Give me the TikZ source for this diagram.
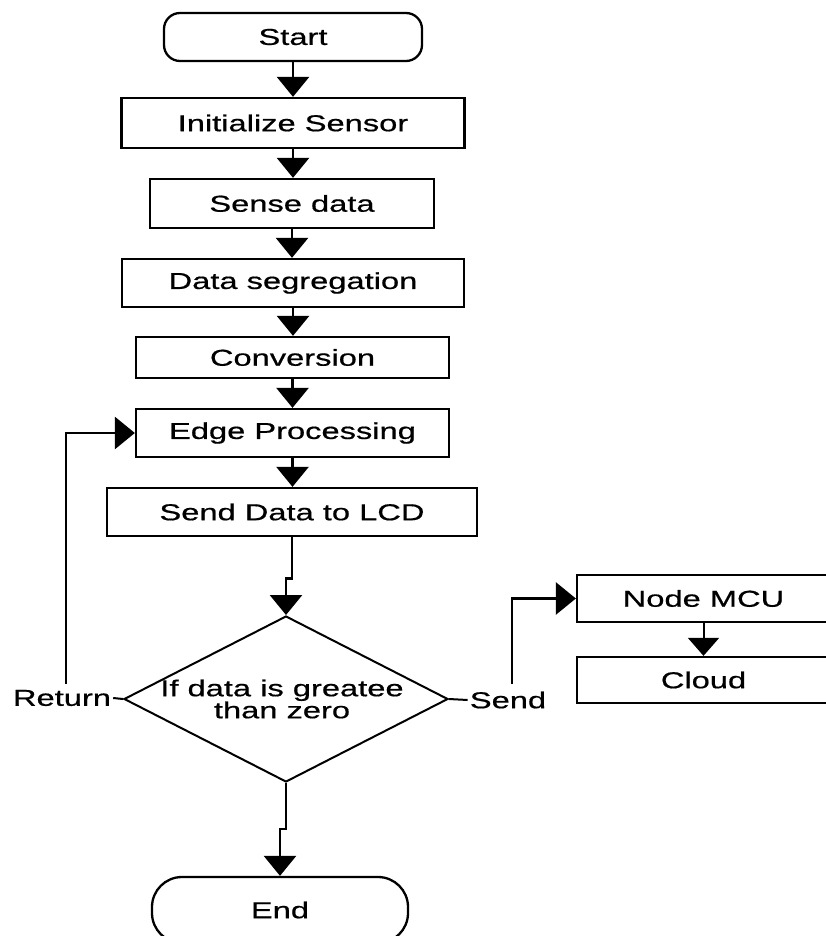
\documentclass[tikz,border=0pt]{standalone}
\usepackage{fontspec}
\setmainfont[FakeStretch=1.42,FakeBold=0.6]{Liberation Sans}
\usetikzlibrary{arrows.meta,shapes.geometric}
\begin{document}
\begin{tikzpicture}[x=1pt,y=-1pt,
  font=\fontsize{23}{22}\selectfont,
  box/.style={draw=black,line width=2.3pt,inner sep=0pt,minimum width=#1},
  arr/.style={line width=2.8pt,-{Triangle[width=32pt,length=20pt]}},
  thinarr/.style={line width=2pt,-{Triangle[width=31pt,length=18pt]}},
  ln/.style={line width=2pt}]
\clip (0,0) rectangle (826,936);
\fill[white] (0,0) rectangle (826,936);

\node[box=258pt,minimum height=48pt,rounded corners=16pt] (start) at (293,37) {Start};
\node[box=343pt,minimum height=50pt] (init) at (293,123) {Initialize Sensor};
\node[box=284pt,minimum height=49pt] (sense) at (292,203.5) {Sense data};
\node[box=342pt,minimum height=48pt] (seg) at (293,283) {Data segregation};
\node[box=313pt,minimum height=41pt] (conv) at (292.5,357.5) {Conversion};
\node[box=313pt,minimum height=48pt] (edge) at (292.5,433) {Edge Processing};
\node[box=370pt,minimum height=48pt] (lcd) at (292,512) {Send Data to LCD};
\node[diamond,draw=black,line width=2pt,inner sep=0pt,minimum width=324pt,minimum height=166pt] (dia) at (286,699) {};
\node[align=center,inner sep=0pt] (dtext) at (282,699) {If data is greatee\\than zero};
\node[inner sep=2pt] (ret) at (62,698) {Return};
\node[inner sep=2pt] (send) at (508,700) {Send};
\node[box=253pt,minimum height=47pt] (mcu) at (703.5,598.5) {Node MCU};
\node[box=253pt,minimum height=46pt] (cloud) at (703.5,680) {Cloud};
\node[box=256pt,minimum height=66pt,rounded corners=30pt] (end) at (280,910) {End};

\coordinate (retup) at (66,684);
\coordinate (sendup) at (512,684);

\draw[arr] (start.south) -- (start.south |- init.north);
\draw[arr] (init.south) -- (init.south |- sense.north);
\draw[arr] (sense.south) -- (sense.south |- seg.north);
\draw[arr] (seg.south) -- (seg.south |- conv.north);
\draw[arr] (conv.south) -- (conv.south |- edge.north);
\draw[arr] (edge.south) -- (edge.south |- lcd.north);
\draw[arr] (lcd.south) -- ++(0,41) -| (dia.north);
\draw[ln] (dia.west) -- (ret.east);
\draw[arr] (retup) |- (edge.west);
\draw[ln] (dia.east) -- (send.west);
\draw[arr] (sendup) |- (mcu.west);
\draw[thinarr] (mcu.south) -- (cloud.north);
\draw[arr] (dia.south) -- ++(0,46) -| (end.north);
\end{tikzpicture}
\end{document}
